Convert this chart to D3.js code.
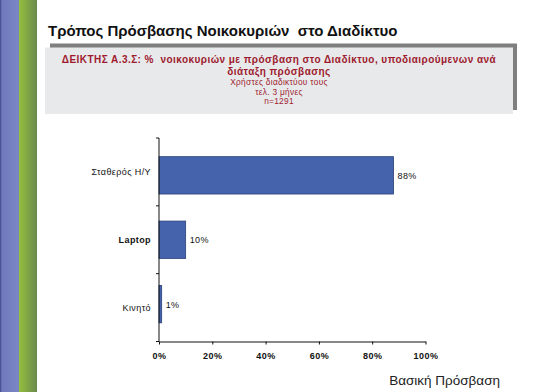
<!DOCTYPE html>
<html><head><meta charset="utf-8">
<script src="https://cdn.jsdelivr.net/npm/d3@7"></script>
<style>html,body{margin:0;padding:0;background:#fff;}svg{display:block;font-family:"Liberation Sans",Arial,sans-serif;}text{white-space:pre;}</style>
</head><body>
<script>
const categories = ["Σταθερός Η/Υ", "Laptop", "Κινητό"];
const values = [88, 10, 1];
const valueLabels = ["88%", "10%", "1%"];
const xTicks = [0, 20, 40, 60, 80, 100];
const title = "Τρόπος Πρόσβασης Νοικοκυριών  στο Διαδίκτυο";
const subtitleBold = ["ΔΕΙΚΤΗΣ Α.3.Σ: %  νοικοκυριών με πρόσβαση στο Διαδίκτυο, υποδιαιρούμενων ανά", "διάταξη πρόσβασης"];
const subtitleNormal = ["Χρήστες διαδικτύου τους", "τελ. 3 μήνες", "n=1291"];
const footer = "Βασική Πρόσβαση";

const W = 542, H = 392;
const svg = d3.select("body").append("svg").attr("width", W).attr("height", H);
const defs = svg.append("defs");
const g1 = defs.append("linearGradient").attr("id", "gg").attr("x1", 0).attr("x2", 1);
g1.append("stop").attr("offset", 0).attr("stop-color", "#93c03e");
g1.append("stop").attr("offset", 1).attr("stop-color", "#6a8a4c");
const g2 = defs.append("linearGradient").attr("id", "bg").attr("x1", 0).attr("x2", 1);
g2.append("stop").attr("offset", 0).attr("stop-color", "#3c4488");
g2.append("stop").attr("offset", 0.1).attr("stop-color", "#6f7abd");
g2.append("stop").attr("offset", 1).attr("stop-color", "#7b86c4");

// left stripes
svg.append("rect").attr("x", 0).attr("y", 0).attr("width", 19).attr("height", H).attr("fill", "url(#bg)");
svg.append("rect").attr("x", 19).attr("y", 0).attr("width", 18).attr("height", H).attr("fill", "url(#gg)");

// title
svg.append("text").attr("x", 48).attr("y", 36).attr("font-size", 15).attr("font-weight", "bold")
  .attr("fill", "#111").text(title);

// subtitle box
svg.append("rect").attr("x", 50).attr("y", 43.5).attr("width", 467).attr("height", 66.5).attr("fill", "#7f7f7f");
svg.append("rect").attr("x", 45).attr("y", 47.5).attr("width", 468).attr("height", 66.5).attr("fill", "#e8e9eb");
const cx = 279;
subtitleBold.forEach((t, i) => {
  svg.append("text").attr("x", cx).attr("y", 63 + i * 12).attr("text-anchor", "middle")
    .attr("font-size", 10).attr("letter-spacing", 0.45).attr("font-weight", "bold").attr("fill", "#9e1b2e").text(t);
});
subtitleNormal.forEach((t, i) => {
  svg.append("text").attr("x", cx).attr("y", 85 + i * 9.5).attr("text-anchor", "middle")
    .attr("font-size", 8.3).attr("letter-spacing", 0.3).attr("fill", "#9e1b2e").text(t);
});

// chart
const x = d3.scaleLinear().domain([0, 100]).range([159, 425.5]);
const y = d3.scaleBand().domain(categories).range([138, 341.5]).paddingInner(0.42).paddingOuter(0.29);
const yb = d3.scaleBand().domain(categories).range([138, 341.5]);

const bars = svg.append("g");
categories.forEach((c, i) => {
  bars.append("rect").attr("x", x(0)).attr("y", y(c)).attr("width", x(values[i]) - x(0))
    .attr("height", y.bandwidth()).attr("fill", "#4563ad").attr("stroke", "#2b3f78").attr("stroke-width", 0.8);
  bars.append("text").attr("x", x(values[i]) + 4).attr("y", y(c) + y.bandwidth() / 2 + 3.5)
    .attr("font-size", 9).attr("letter-spacing", 0.4).attr("fill", "#111").text(valueLabels[i]);
  bars.append("text").attr("x", x(0) - 8).attr("y", yb(c) + yb.bandwidth() / 2 + 3.5)
    .attr("text-anchor", "end").attr("font-size", 9).attr("letter-spacing", 0.4).attr("fill", "#111")
    .attr("font-weight", c === "Laptop" ? "bold" : "normal").text(c);
});

// y axis line with ticks at band boundaries
const yAxisG = svg.append("g");
yAxisG.append("line").attr("x1", x(0)).attr("x2", x(0)).attr("y1", 138).attr("y2", 341.5).attr("stroke", "#111");
const bounds = categories.map(c => yb(c)).concat([341.5]);
bounds.forEach(b => yAxisG.append("line").attr("x1", x(0) - 3).attr("x2", x(0)).attr("y1", b).attr("y2", b).attr("stroke", "#111"));

// x axis
const xAxis = d3.axisBottom(x).tickValues(xTicks).tickFormat(d => d + "%").tickSizeInner(3).tickSizeOuter(0).tickPadding(8);
const xg = svg.append("g").attr("transform", "translate(0,341.5)").call(xAxis);
xg.select(".domain").attr("stroke", "#111");
xg.selectAll(".tick line").attr("stroke", "#111");
xg.selectAll(".tick text").attr("font-size", 9).attr("letter-spacing", 0.5).attr("font-weight", "bold").attr("fill", "#111")
  .attr("font-family", "'Liberation Sans',Arial,sans-serif");

// footer
svg.append("text").attr("x", 500).attr("y", 385).attr("text-anchor", "end").attr("font-size", 13.5)
  .attr("fill", "#222").text(footer);
</script>
</body></html>
